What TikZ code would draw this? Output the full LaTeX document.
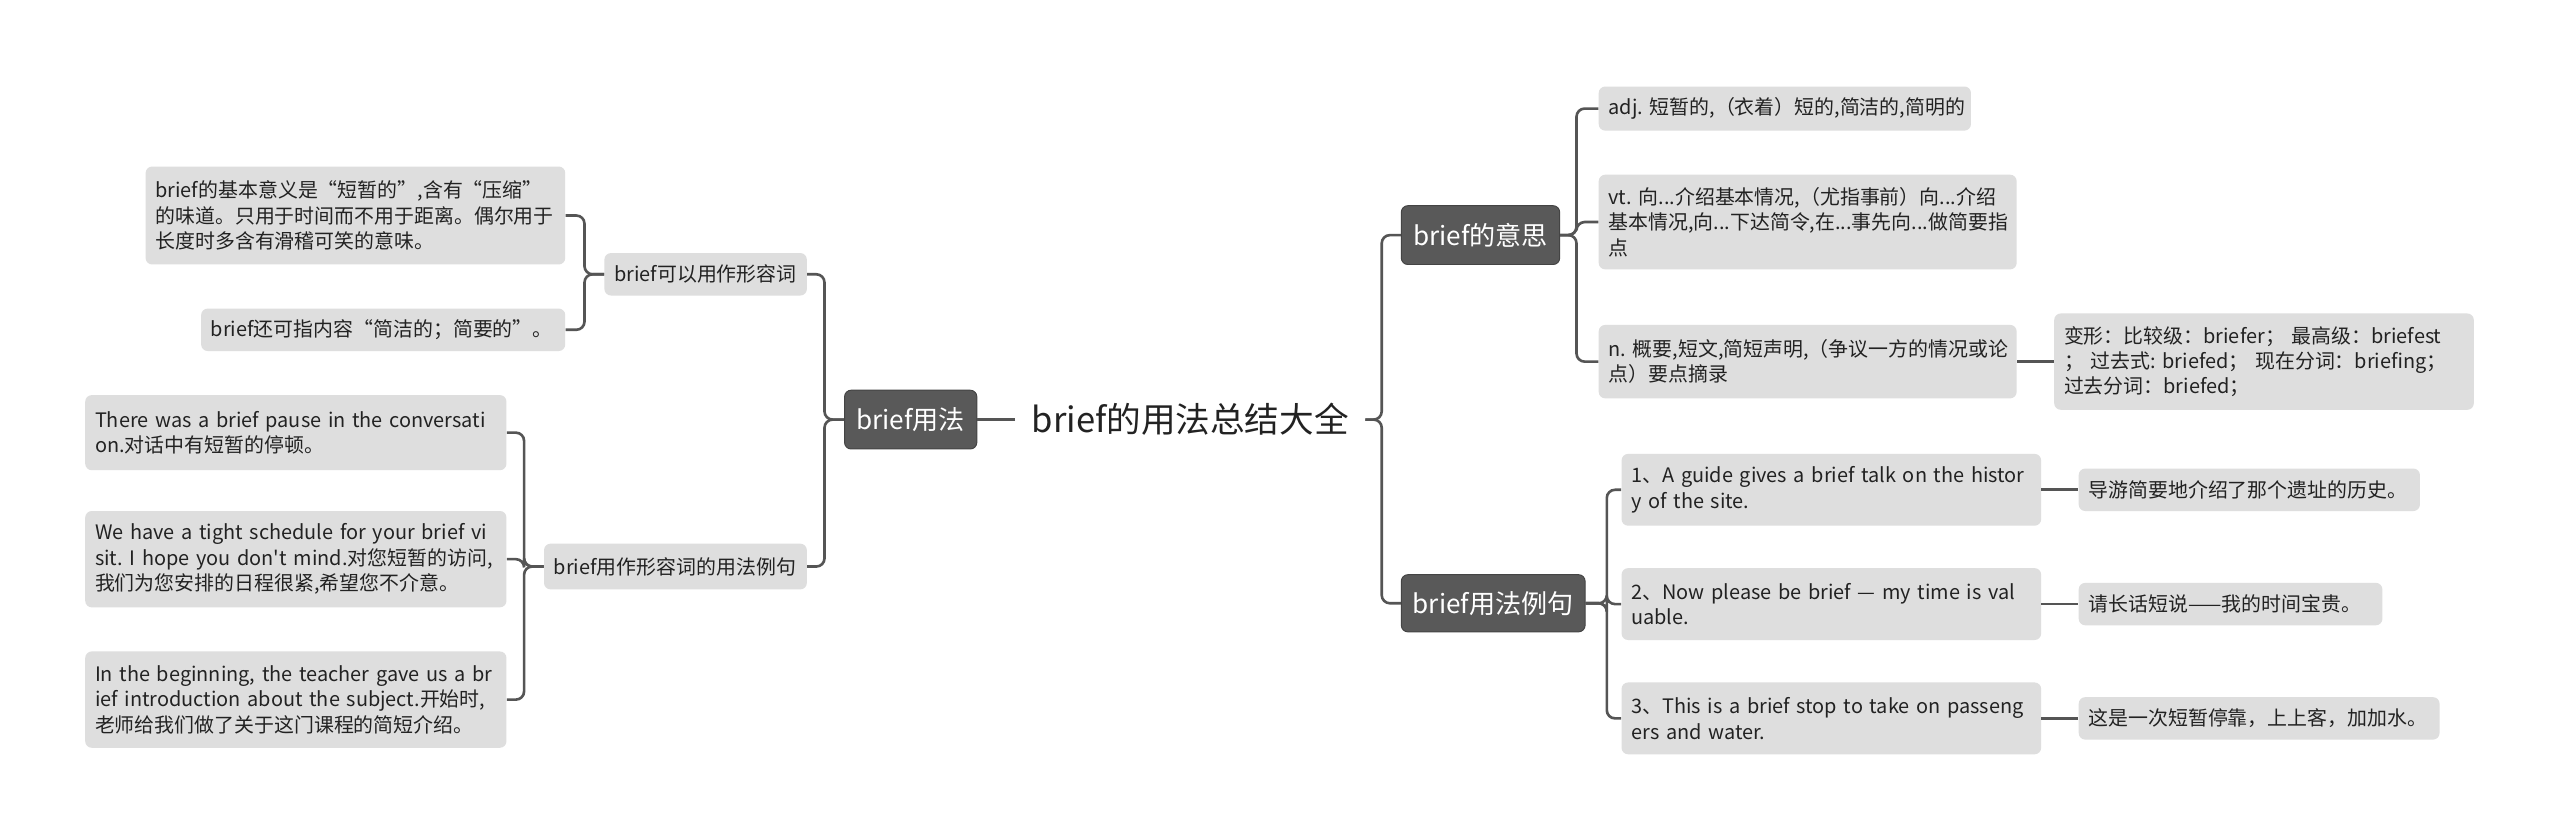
\documentclass[tikz,border=0pt]{standalone}
\usepackage{fontspec}
\newfontfamily\cjkf{Noto Sans CJK SC}
\definecolor{lightfill}{HTML}{DEDEDE}
\definecolor{darkfill}{HTML}{595959}
\definecolor{darkborder}{HTML}{444444}
\definecolor{linecol}{HTML}{555555}
\definecolor{txt}{HTML}{222222}
\newcommand\smallfnt{\cjkf\frenchspacing\fontsize{12.2}{15.6}\selectfont}
\newcommand\midfnt{\cjkf\fontsize{16}{19}\selectfont}
\newcommand\rootfnt{\cjkf\fontsize{21.2}{25}\selectfont}
\tikzset{
  light/.style={fill=lightfill, rounded corners=4pt, inner xsep=6pt, inner ysep=3pt,
    font=\smallfnt, align=left, anchor=west, text=txt},
  dark/.style={fill=darkfill, draw=darkborder, line width=0.6pt, rounded corners=4pt,
    text=white, font=\midfnt, inner xsep=7pt, inner ysep=3pt, anchor=west},
  conn/.style={draw=linecol, line width=1.6pt, rounded corners=5pt},
}
\begin{document}
\begin{tikzpicture}[x=1pt,y=-1pt]
\fill[white] (0,0) rectangle (1568,514);
\useasboundingbox (0,0) rectangle (1568,514);

% root
\node[font=\rootfnt, text=txt, inner xsep=10pt] (root) at (729,257) {brief的用法总结大全};

% left side
\node[dark, minimum width=81pt, minimum height=36pt] (usage) at (517,257) {brief用法};
\node[light, text width=112pt, minimum height=26pt] (adjn) at (370,168) {brief可以用作形容词};
\node[light, text width=149pt, minimum height=28pt] (exn) at (333,347) {brief用作形容词的用法例句};
\node[light, text width=245pt, minimum height=60pt] (L1) at (89,132)
  {\mbox{brief的基本意义是“短暂的”,含有“压缩”}\\\mbox{的味道。只用于时间而不用于距离。偶尔用于}\\\mbox{长度时多含有滑稽可笑的意味。}};
\node[light, text width=211pt, minimum height=26pt] (L2) at (123,202)
  {\mbox{brief还可指内容“简洁的；简要的”。}};
\node[light, text width=246pt, minimum height=46pt] (L3) at (52,265)
  {\mbox{There was a brief pause in the conversati}\\\mbox{on.对话中有短暂的停顿。}};
\node[light, text width=246pt, minimum height=59pt] (L4) at (52,342.5)
  {\mbox{We have a tight schedule for your brief vi}\\\mbox{sit. I hope you don't mind.对您短暂的访问,}\\\mbox{我们为您安排的日程很紧,希望您不介意。}};
\node[light, text width=246pt, minimum height=59pt] (L5) at (52,428.5)
  {\mbox{In the beginning, the teacher gave us a br}\\\mbox{ief introduction about the subject.开始时,}\\\mbox{老师给我们做了关于这门课程的简短介绍。}};

% right side
\node[dark, minimum width=97pt, minimum height=36pt] (meaning) at (858,144) {brief的意思};
\node[dark, minimum width=112pt, minimum height=35pt] (rex) at (858,369.5) {brief用法例句};
\node[light, text width=216pt, minimum height=27pt] (R1) at (979,66.5)
  {\mbox{adj. 短暂的,（衣着）短的,简洁的,简明的}};
\node[light, text width=244pt, minimum height=58pt] (R2) at (979,136)
  {\mbox{vt. 向...介绍基本情况,（尤指事前）向...介绍}\\\mbox{基本情况,向...下达简令,在...事先向...做简要指}\\点};
\node[light, text width=244pt, minimum height=45pt] (R3) at (979,221.5)
  {\mbox{n. 概要,短文,简短声明,（争议一方的情况或论}\\\mbox{点）要点摘录}};
\node[light, text width=245pt, minimum height=59pt] (R4) at (1258,221.5)
  {\mbox{变形：比较级：briefer； 最高级：briefest}\\\mbox{； 过去式: briefed； 现在分词：briefing；}\\\mbox{过去分词：briefed；}};
\node[light, text width=245pt, minimum height=44pt] (E1) at (993,300)
  {\mbox{1、A guide gives a brief talk on the histor}\\\mbox{y of the site.}};
\node[light, text width=245pt, minimum height=44pt] (E2) at (993,370)
  {\mbox{2、Now please be brief — my time is val}\\\mbox{uable.}};
\node[light, text width=245pt, minimum height=44pt] (E3) at (993,440)
  {\mbox{3、This is a brief stop to take on passeng}\\\mbox{ers and water.}};
\node[light, text width=197pt, minimum height=26pt] (T1) at (1273,300)
  {导游简要地介绍了那个遗址的历史。};
\node[light, text width=174pt, minimum height=26pt] (T2) at (1273,370)
  {请长话短说——我的时间宝贵。};
\node[light, text width=209pt, minimum height=26pt] (T3) at (1273,440)
  {这是一次短暂停靠，上上客，加加水。};

% connectors
\draw[conn] (root.west) -- (usage.east);
\draw[conn] (usage.west) -- ++(-12,0) |- (adjn.east);
\draw[conn] (usage.west) -- ++(-12,0) |- (exn.east);
\draw[conn] (adjn.west) -- ++(-12,0) |- (L1.east);
\draw[conn] (adjn.west) -- ++(-12,0) |- (L2.east);
\draw[conn] (exn.west) -- ++(-12,0) |- (L3.east);
\draw[conn] (exn.west) -- ++(-12,0) |- (L4.east);
\draw[conn] (exn.west) -- ++(-12,0) |- (L5.east);

\draw[conn] (root.east) -- ++(10,0) |- (meaning.west);
\draw[conn] (root.east) -- ++(10,0) |- (rex.west);
\draw[conn] (meaning.east) -- ++(10,0) |- (R1.west);
\draw[conn] (meaning.east) -- ++(10,0) |- (R2.west);
\draw[conn] (meaning.east) -- ++(10,0) |- (R3.west);
\draw[conn] (R3.east) -- (R4.west);
\draw[conn] (rex.east) -- ++(13,0) |- (E1.west);
\draw[conn] (rex.east) -- ++(13,0) |- (E2.west);
\draw[conn] (rex.east) -- ++(13,0) |- (E3.west);
\draw[conn] (E1.east) -- (T1.west);
\draw[conn] (E2.east) -- (T2.west);
\draw[conn] (E3.east) -- (T3.west);
\end{tikzpicture}
\end{document}
